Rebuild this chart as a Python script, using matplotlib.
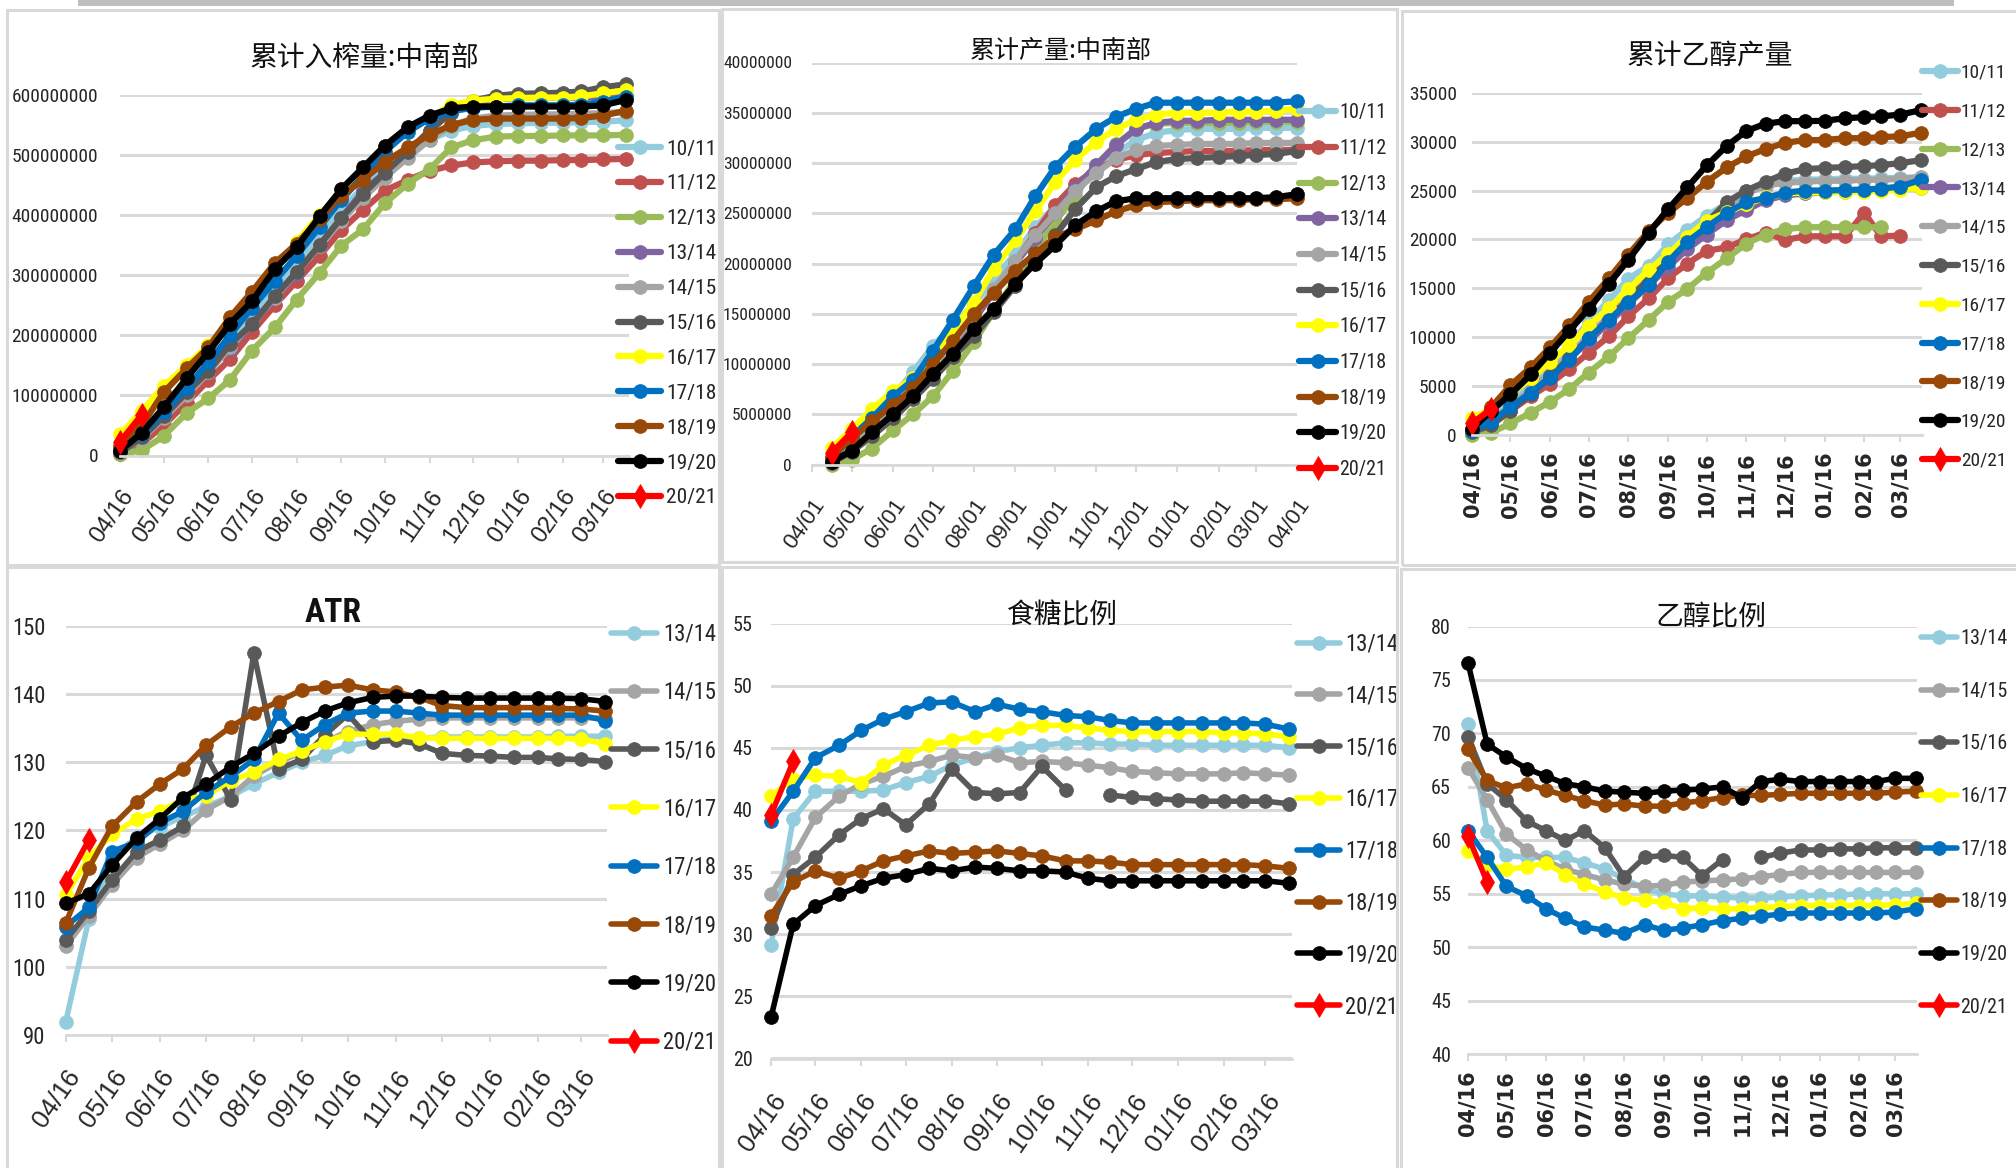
import os
import matplotlib
matplotlib.use("Agg")
import matplotlib.pyplot as plt
import matplotlib.dates as mdates
from matplotlib import font_manager
from matplotlib.font_manager import FontProperties
from matplotlib.patches import Rectangle
from matplotlib.textpath import TextPath
from matplotlib.ticker import FuncFormatter
import numpy as np
import pandas as pd

nan = np.nan


# fonts: the reference text is tall and narrow, so look for a condensed face
def find_font(keys):
    for key in keys:
        for f in font_manager.fontManager.ttflist:
            if key in os.path.basename(f.fname).lower():
                return f.fname
    return None


NARROW_REG = find_font(["liberationsansnarrow-regular", "robotocondensed-regular",
                        "dejavusanscondensed.ttf", "notosans-condensed.ttf",
                        "notosans-condensedregular", "opensans-condensedregular",
                        "opensans_condensed-regular"])
NARROW_BOLD = find_font(["liberationsansnarrow-bold.", "robotocondensed-bold.",
                         "dejavusanscondensed-bold.", "notosans-condensedbold.",
                         "opensans-condensedbold"])


def base_fp(bold=False):
    if bold and NARROW_BOLD:
        return FontProperties(fname=NARROW_BOLD)
    if not bold and NARROW_REG:
        return FontProperties(fname=NARROW_REG)
    return FontProperties(family="Liberation Sans", weight="bold" if bold else "normal")


# scale so digits are as wide as Liberation Sans Narrow would be
_w_ref = TextPath((0, 0), "0123456789", size=100,
                  prop=FontProperties(family="Liberation Sans")).get_extents().width * 0.82
_w_got = TextPath((0, 0), "0123456789", size=100, prop=base_fp()).get_extents().width
K = _w_ref / _w_got


def nfp(size, bold=False):
    fp = base_fp(bold)
    fp.set_size(size * K)
    return fp


CJK = ["Noto Sans CJK SC", "DejaVu Sans"]

# ---------------- data ----------------
# half-month report dates of a season (04/16 .. 04/01 of next year)
dates = pd.to_datetime([
    "2018-04-16", "2018-05-01", "2018-05-16", "2018-06-01", "2018-06-16", "2018-07-01",
    "2018-07-16", "2018-08-01", "2018-08-16", "2018-09-01", "2018-09-16", "2018-10-01",
    "2018-10-16", "2018-11-01", "2018-11-16", "2018-12-01", "2018-12-16", "2019-01-01",
    "2019-01-16", "2019-02-01", "2019-02-16", "2019-03-01", "2019-03-16", "2019-04-01"])

ticks_16 = pd.to_datetime([
    "2018-04-16", "2018-05-16", "2018-06-16", "2018-07-16", "2018-08-16", "2018-09-16",
    "2018-10-16", "2018-11-16", "2018-12-16", "2019-01-16", "2019-02-16", "2019-03-16"])
ticks_01 = pd.to_datetime([
    "2018-04-01", "2018-05-01", "2018-06-01", "2018-07-01", "2018-08-01", "2018-09-01",
    "2018-10-01", "2018-11-01", "2018-12-01", "2019-01-01", "2019-02-01", "2019-03-01",
    "2019-04-01"])

seasons_all = ["10/11", "11/12", "12/13", "13/14", "14/15", "15/16",
               "16/17", "17/18", "18/19", "19/20", "20/21"]
colors_all = ["#93CDDD", "#C0504D", "#9BBB59", "#8064A2", "#A5A5A5", "#595959",
              "#FFFF00", "#0070C0", "#984807", "#000000", "#FF0000"]
seasons_mix = ["13/14", "14/15", "15/16", "16/17", "17/18", "18/19", "19/20", "20/21"]
colors_mix = ["#93CDDD", "#A5A5A5", "#595959", "#FFFF00", "#0070C0", "#984807",
              "#000000", "#FF0000"]

# 累计入榨量 (million t)
cane_1011 = [8, 32, 70, 108, 150, 190, 235, 278, 322, 365, 410, 445, 478, 505, 525, 540, 548, 551, 552, 553, 553, 554, 555, 557]
cane_1112 = [3, 20, 50, 88, 125, 160, 205, 250, 290, 332, 375, 408, 440, 458, 473, 482, 487, 489, 490, 490, 491, 491, 492, 493]
cane_1213 = [2, 9, 32, 71, 95, 126, 174, 213, 259, 304, 349, 376, 419, 452, 476, 512, 524, 530, 531, 531, 532, 532, 532, 533]
cane_1314 = [6, 30, 68, 110, 148, 177, 218, 262, 302, 350, 395, 440, 470, 505, 540, 570, 585, 592, 594, 595, 595, 595, 596, 597]
cane_1415 = [5, 28, 62, 100, 138, 180, 220, 262, 305, 348, 390, 428, 462, 495, 525, 548, 560, 565, 566, 567, 567, 568, 569, 571]
cane_1516 = [5, 30, 65, 105, 140, 185, 218, 265, 305, 350, 395, 435, 470, 505, 540, 570, 590, 598, 601, 602, 603, 605, 612, 617]
cane_1617 = [35, 74, 115, 150, 183, 225, 265, 312, 355, 400, 440, 475, 510, 540, 562, 582, 590, 593, 594, 595, 595, 597, 602, 607]
cane_1718 = [10, 35, 72, 112, 155, 200, 245, 290, 332, 380, 425, 465, 505, 538, 560, 572, 578, 580, 582, 582, 582, 583, 588, 596]
cane_1819 = [15, 50, 105, 145, 180, 230, 272, 320, 352, 393, 432, 458, 488, 512, 533, 549, 558, 560, 560, 560, 560, 561, 565, 573]
cane_1920 = [8, 38, 80, 129, 172, 219, 256, 310, 346, 398, 443, 479, 515, 546, 565, 577, 580, 580, 580, 580, 580, 580, 582, 591]
cane_2021 = [23, 68]

# 累计产量 sugar (million t)
sugar_1011 = [0.5, 2.5, 4.6, 6.8, 9.2, 11.8, 13.8, 16.0, 18.5, 21.0, 23.6, 25.7, 27.8, 29.5, 31.0, 32.3, 33.0, 33.3, 33.4, 33.4, 33.4, 33.5, 33.5, 33.5]
sugar_1112 = [0.3, 1.6, 3.3, 5.2, 7.0, 9.3, 11.6, 14.4, 17.2, 20.2, 23.0, 25.8, 27.9, 29.4, 30.3, 30.8, 31.0, 31.1, 31.2, 31.2, 31.2, 31.3, 31.3, 31.3]
sugar_1213 = [0.0, 0.5, 1.6, 3.4, 5.0, 6.8, 9.3, 12.2, 15.3, 18.4, 21.2, 24.2, 26.7, 29.8, 31.9, 33.4, 33.9, 34.0, 34.0, 34.0, 34.0, 34.1, 34.1, 34.1]
sugar_1314 = [0.4, 2.0, 3.8, 5.6, 7.3, 9.5, 11.8, 14.5, 17.2, 20.0, 22.5, 25.0, 27.5, 29.8, 31.8, 33.4, 34.0, 34.2, 34.2, 34.3, 34.3, 34.3, 34.3, 34.3]
sugar_1415 = [0.4, 2.0, 3.6, 5.4, 7.2, 9.4, 12.0, 14.8, 17.5, 20.3, 22.8, 25.0, 27.2, 29.0, 30.5, 31.3, 31.7, 31.8, 31.9, 31.9, 31.9, 32.0, 32.0, 32.0]
sugar_1516 = [0.2, 1.3, 2.8, 4.6, 6.5, 8.5, 10.7, 12.8, 15.2, 17.8, 20.3, 22.8, 25.4, 27.6, 28.7, 29.4, 30.1, 30.4, 30.5, 30.6, 30.7, 30.8, 30.9, 31.2]
sugar_1617 = [1.7, 3.5, 5.5, 7.3, 8.6, 10.4, 13.3, 16.2, 19.5, 22.3, 25.2, 28.1, 30.3, 32.1, 33.4, 34.3, 34.8, 35.0, 35.0, 35.0, 35.1, 35.1, 35.2, 35.4]
sugar_1718 = [0.65, 2.8, 4.6, 6.8, 8.4, 11.3, 14.4, 17.8, 20.9, 23.4, 26.7, 29.6, 31.6, 33.4, 34.6, 35.4, 36.0, 36.0, 36.0, 36.0, 36.0, 36.0, 36.0, 36.15]
sugar_1819 = [0.8, 2.6, 4.3, 5.9, 7.6, 10.0, 12.3, 15.0, 17.1, 19.3, 21.0, 22.6, 23.4, 24.3, 25.2, 25.8, 26.1, 26.2, 26.3, 26.3, 26.3, 26.4, 26.4, 26.5]
sugar_1920 = [0.3, 1.4, 3.2, 5.0, 6.8, 9.0, 11.0, 13.5, 15.5, 18.0, 20.0, 21.8, 23.8, 25.2, 26.2, 26.5, 26.5, 26.5, 26.5, 26.5, 26.5, 26.5, 26.6, 26.9]
sugar_2021 = [1.2, 3.2]

# 累计乙醇产量
eth_1011 = [500, 2000, 3600, 5300, 7200, 9100, 11600, 13800, 16000, 17300, 19500, 21000, 22400, 23700, 25000, 25700, 26000, 26100, 26150, 26200, 26200, 26250, 26300, 26300]
eth_1112 = [70, 1370, 2490, 3970, 5270, 6760, 8430, 10100, 12150, 14000, 16050, 17530, 18830, 19200, 20020, 20690, 19950, 20320, 20320, 20320, 22730, 20320, 20390, nan]
eth_1213 = [0, 260, 1190, 2300, 3420, 4720, 6390, 8060, 9920, 11780, 13630, 14940, 16600, 18090, 19580, 20500, 21060, 21250, 21250, 21250, 21250, 21250, nan, nan]
eth_1314 = [400, 1500, 2900, 4400, 6000, 7800, 9600, 11500, 13400, 15300, 17200, 19000, 20500, 22000, 23000, 24000, 24500, 24700, 24800, 24900, 25000, 25100, 25200, 25300]
eth_1415 = [400, 1500, 3000, 4700, 6400, 8200, 10200, 12200, 14300, 16300, 18300, 20200, 21900, 23400, 24700, 25500, 25800, 25900, 26000, 26000, 26100, 26100, 26200, 26400]
eth_1516 = [300, 1000, 2500, 4200, 6000, 7900, 9900, 11900, 13900, 15900, 17900, 19900, 21700, 23850, 25000, 25890, 26710, 27190, 27300, 27400, 27500, 27600, 27800, 28100]
eth_1617 = [1700, 2700, 4200, 5800, 7500, 9200, 11200, 13000, 14900, 16900, 18500, 20300, 21900, 22800, 23600, 24300, 24700, 24800, 24800, 24900, 24900, 25000, 25100, 25300]
eth_1718 = [450, 1370, 2860, 4350, 5830, 7690, 9900, 11780, 13630, 15300, 17720, 19760, 21250, 22730, 23850, 24220, 24780, 25000, 25000, 25050, 25100, 25200, 25400, 26100]
eth_1819 = [630, 2860, 5090, 6950, 8990, 11220, 13630, 16050, 18460, 20880, 22730, 24220, 25890, 27380, 28490, 29240, 29870, 30160, 30160, 30350, 30350, 30460, 30540, 30910]
eth_1920 = [630, 2490, 4160, 6200, 8430, 10660, 12890, 15490, 17900, 20690, 23100, 25330, 27560, 29600, 31090, 31830, 32090, 32090, 32130, 32390, 32500, 32580, 32760, 33210]
eth_2021 = [1190, 2670]

# ATR
atr_1314 = [91.9, 107.0, 116.0, 119.0, 120.5, 122.0, 123.5, 125.0, 126.8, 128.5, 130.0, 131.0, 132.4, 133.0, 133.5, 133.5, 133.7, 133.7, 133.7, 133.7, 133.7, 133.8, 133.8, 133.8]
atr_1415 = [103.0, 107.5, 112.0, 116.0, 118.0, 120.0, 123.0, 125.0, 128.0, 130.0, 131.5, 133.0, 134.5, 135.5, 136.0, 136.3, 136.5, 136.5, 136.5, 136.5, 136.5, 136.5, 136.5, 136.5]
atr_1516 = [103.9, 108.2, 112.7, 116.9, 118.6, 120.6, 131.0, 124.5, 146.0, 129.0, 130.4, 134.0, 137.0, 133.0, 133.2, 132.7, 131.3, 131.0, 130.9, 130.7, 130.7, 130.5, 130.4, 130.1]
atr_1617 = [110.5, 116.0, 119.4, 121.7, 122.8, 124.5, 125.1, 127.3, 128.5, 130.4, 131.6, 133.0, 134.1, 134.1, 134.1, 133.6, 133.5, 133.5, 133.5, 133.5, 133.5, 133.5, 133.4, 132.7]
atr_1718 = [105.9, 108.7, 116.9, 118.3, 121.1, 122.8, 125.6, 127.9, 130.4, 137.2, 133.2, 135.5, 137.2, 137.5, 137.5, 137.2, 136.9, 136.9, 136.9, 136.9, 136.9, 136.9, 136.9, 136.1]
atr_1819 = [106.4, 114.5, 120.6, 124.2, 126.8, 129.0, 132.5, 135.2, 137.2, 138.9, 140.6, 141.0, 141.3, 140.6, 140.3, 139.5, 138.3, 138.0, 138.0, 138.0, 138.0, 137.9, 137.8, 137.5]
atr_1920 = [109.3, 110.7, 114.9, 118.9, 121.7, 124.8, 126.8, 129.3, 131.3, 133.8, 135.8, 137.5, 138.7, 139.5, 139.7, 139.7, 139.5, 139.4, 139.4, 139.4, 139.4, 139.4, 139.3, 138.9]
atr_2021 = [112.4, 118.6]

# 食糖比例 (%)
smix_1314 = [29.1, 39.3, 41.5, 41.5, 41.5, 41.6, 42.2, 42.7, 43.6, 44.2, 44.7, 45.0, 45.2, 45.4, 45.4, 45.3, 45.3, 45.2, 45.2, 45.2, 45.2, 45.2, 45.2, 45.0]
smix_1415 = [33.2, 36.2, 39.4, 41.1, 42.1, 42.7, 43.5, 43.9, 44.4, 44.2, 44.4, 43.8, 43.9, 43.8, 43.6, 43.4, 43.1, 43.0, 42.9, 42.9, 42.9, 43.0, 42.9, 42.8]
smix_1516 = [30.5, 34.8, 36.2, 38.0, 39.3, 40.1, 38.8, 40.5, 43.3, 41.4, 41.3, 41.4, 43.5, 41.6, nan, 41.2, 41.0, 40.9, 40.8, 40.7, 40.7, 40.7, 40.7, 40.5]
smix_1617 = [41.1, 42.5, 42.8, 42.7, 42.2, 43.6, 44.4, 45.2, 45.6, 45.9, 46.1, 46.6, 46.8, 46.8, 46.6, 46.4, 46.3, 46.3, 46.3, 46.3, 46.2, 46.2, 46.1, 45.9]
smix_1718 = [39.1, 41.5, 44.2, 45.2, 46.4, 47.3, 47.9, 48.6, 48.7, 47.9, 48.5, 48.1, 47.9, 47.6, 47.5, 47.2, 47.0, 47.0, 47.0, 47.0, 47.0, 47.0, 46.9, 46.5]
smix_1819 = [31.5, 34.2, 35.1, 34.5, 35.1, 35.9, 36.3, 36.7, 36.5, 36.6, 36.7, 36.5, 36.3, 35.9, 35.9, 35.8, 35.6, 35.6, 35.6, 35.6, 35.6, 35.6, 35.5, 35.3]
smix_1920 = [23.3, 30.8, 32.3, 33.2, 33.9, 34.5, 34.8, 35.3, 35.1, 35.4, 35.3, 35.1, 35.1, 35.0, 34.5, 34.3, 34.3, 34.3, 34.3, 34.3, 34.3, 34.3, 34.3, 34.1]
smix_2021 = [39.6, 43.9]

# 乙醇比例 (%)
emix_1314 = [70.9, 60.9, 58.6, 58.4, 58.4, 58.4, 57.9, 57.3, 56.4, 55.5, 55.0, 54.8, 54.8, 54.7, 54.6, 54.6, 54.7, 54.8, 54.9, 54.9, 55.0, 55.0, 55.0, 55.0]
emix_1415 = [66.8, 63.8, 60.6, 59.1, 58.1, 57.3, 56.8, 56.3, 55.9, 55.7, 55.8, 56.1, 56.2, 56.3, 56.4, 56.6, 56.8, 57.0, 57.0, 57.0, 57.0, 57.0, 57.0, 57.0]
emix_1516 = [69.7, 65.3, 63.8, 61.8, 60.9, 60.0, 60.9, 59.3, 56.6, 58.4, 58.6, 58.4, 56.7, 58.2, nan, 58.4, 58.8, 59.1, 59.1, 59.2, 59.2, 59.3, 59.3, 59.3]
emix_1617 = [59.0, 57.7, 57.3, 57.5, 57.9, 56.8, 55.9, 55.2, 54.6, 54.4, 54.2, 53.6, 53.7, 53.6, 53.6, 53.7, 53.8, 53.9, 53.9, 53.9, 53.9, 53.9, 54.0, 54.1]
emix_1718 = [60.9, 58.4, 55.7, 54.8, 53.6, 52.7, 51.9, 51.6, 51.3, 52.1, 51.6, 51.8, 52.1, 52.5, 52.7, 52.9, 53.1, 53.2, 53.2, 53.2, 53.2, 53.2, 53.3, 53.6]
emix_1819 = [68.5, 65.6, 64.9, 65.3, 64.7, 64.2, 63.7, 63.3, 63.4, 63.2, 63.2, 63.5, 63.7, 64.0, 64.2, 64.2, 64.3, 64.4, 64.4, 64.4, 64.4, 64.4, 64.5, 64.6]
emix_1920 = [76.6, 69.0, 67.8, 66.7, 66.0, 65.3, 65.0, 64.6, 64.5, 64.4, 64.6, 64.7, 64.8, 65.0, 64.0, 65.5, 65.7, 65.5, 65.5, 65.5, 65.5, 65.5, 65.8, 65.8]
emix_2021 = [60.4, 56.1]

cane = [cane_1011, cane_1112, cane_1213, cane_1314, cane_1415, cane_1516,
        cane_1617, cane_1718, cane_1819, cane_1920, cane_2021]
sugar = [sugar_1011, sugar_1112, sugar_1213, sugar_1314, sugar_1415, sugar_1516,
         sugar_1617, sugar_1718, sugar_1819, sugar_1920, sugar_2021]
ethanol = [eth_1011, eth_1112, eth_1213, eth_1314, eth_1415, eth_1516,
           eth_1617, eth_1718, eth_1819, eth_1920, eth_2021]
atr = [atr_1314, atr_1415, atr_1516, atr_1617, atr_1718, atr_1819, atr_1920, atr_2021]
smix = [smix_1314, smix_1415, smix_1516, smix_1617, smix_1718, smix_1819, smix_1920, smix_2021]
emix = [emix_1314, emix_1415, emix_1516, emix_1617, emix_1718, emix_1819, emix_1920, emix_2021]

# ---------------- figure ----------------
W, H = 2016, 1168
fig = plt.figure(figsize=(W / 100, H / 100), dpi=100)
fig.patch.set_facecolor("white")
renderer = fig.canvas.get_renderer()

GRID = "#D9D9D9"
TXT = "#262626"


def px_rect(x0, y0, x1, y1):
    return [x0 / W, 1 - y1 / H, (x1 - x0) / W, (y1 - y0) / H]


def frame(x0, y0, x1, y1):
    fig.patches.append(Rectangle((x0 / W, 1 - y1 / H), (x1 - x0) / W, (y1 - y0) / H,
                                 transform=fig.transFigure, fill=False,
                                 edgecolor=GRID, lw=2.2))


def text_height(s, fp):
    t = fig.text(0, 0, s, fontproperties=fp)
    h = t.get_window_extent(renderer).height
    t.remove()
    return h


def panel(box, labels, colors, series, scale, ylim, ystep, yfs, ypad,
          xlim, xticks, xrot, xfs, title, txy, tfs, leg, lw=4.5, ms=10):
    ax = fig.add_axes(px_rect(*box))
    for lab, col, vals in zip(labels, colors, series):
        y = np.array(vals, dtype=float) * scale
        mk = "d" if lab == "20/21" else "o"
        ax.plot(dates[:len(y)], y, color=col, lw=lw, marker=mk,
                ms=ms + (2 if mk == "d" else 0), mec=col, mew=0.5,
                clip_on=False, label=lab, solid_capstyle="round")
    ax.set_ylim(*ylim)
    ax.set_yticks(np.arange(ylim[0], ylim[1] + ystep / 2, ystep))
    ax.yaxis.set_major_formatter(FuncFormatter(lambda v, p: f"{v:.0f}"))
    ax.set_xlim(pd.Timestamp(xlim[0]), pd.Timestamp(xlim[1]))
    ax.set_xticks(xticks)
    ax.xaxis.set_major_formatter(mdates.DateFormatter("%m/%d"))
    for s in ("left", "right", "top"):
        ax.spines[s].set_visible(False)
    ax.spines["bottom"].set_color(GRID)
    ax.spines["bottom"].set_linewidth(2)
    ax.yaxis.grid(True, color=GRID, lw=2.2)
    ax.set_axisbelow(True)
    ax.tick_params(axis="y", length=0, pad=ypad, labelcolor=TXT)
    for t in ax.get_yticklabels():
        t.set_fontproperties(nfp(yfs))
    if xrot == 90:
        ax.tick_params(axis="x", length=5, width=1.5, color=GRID, pad=7,
                       labelsize=xfs, labelcolor=TXT)
        for t in ax.get_xticklabels():
            t.set_family("DejaVu Sans")
            t.set_weight("bold")
            t.set_rotation(90)
    else:
        ax.tick_params(axis="x", length=5, width=1.5, color=GRID, pad=17,
                       labelsize=xfs, labelcolor=TXT)
        for t in ax.get_xticklabels():
            t.set_family("Liberation Sans")
            t.set_rotation(xrot)
            t.set_ha("right")
            t.set_va("top")
            t.set_rotation_mode("anchor")
    # title
    if title == "ATR":
        fig.text(txy[0] / W, 1 - txy[1] / H, title, ha="center", va="center",
                 fontproperties=nfp(tfs, bold=True), color="#111111")
    else:
        fig.text(txy[0] / W, 1 - txy[1] / H, title, ha="center", va="center",
                 fontsize=tfs, family=CJK, color="#111111")
    # legend: x of handles, centre of first row, row pitch (px), font size, handle, pad
    lx, ly, pitch, lfs, hl, tp = leg
    fp = nfp(lfs)
    fs_px = fp.get_size_in_points() * 100 / 72
    th = text_height("10/11", fp)
    lg = ax.legend(loc="upper left", bbox_to_anchor=(lx / W, 1 - (ly - th / 2) / H),
                   bbox_transform=fig.transFigure, frameon=False, borderpad=0,
                   borderaxespad=0, labelspacing=(pitch - th) / fs_px,
                   handlelength=hl / fs_px, handletextpad=tp / fs_px, numpoints=1,
                   prop=fp)
    for t in lg.get_texts():
        t.set_color(TXT)
    return ax


# panel frames and the grey strip at the very top
frame(7, 10, 719, 565)
frame(722, 9, 1397, 562)
frame(1402, 11, 2030, 565)
frame(7, 567, 719, 1180)
frame(722, 567, 1397, 1180)
frame(1401, 569, 2030, 1180)
fig.patches.append(Rectangle((78 / W, 1 - 5.5 / H), (1954 - 78) / W, 5.5 / H,
                             transform=fig.transFigure, color="#BFBFBF", lw=0))

panel((120.3, 94.5, 629, 455.5), seasons_all, colors_all, cane, 1e6,
      (0, 6e8), 1e8, 15, 16, ("2018-04-16", "2019-04-03"), ticks_16, 55, 17,
      "累计入榨量:中南部", (364, 58), 20, (618, 149, 34.9, 16.5, 43, 5))

panel((812, 62.5, 1297, 464.6), seasons_all, colors_all, sugar, 1e6,
      (0, 4e7), 5e6, 13.5, 14.4, ("2018-04-01", "2019-04-01"), ticks_01, 55, 16,
      "累计产量:中南部", (1061, 51), 18, (1299, 112.7, 35.7, 15.5, 37, 3))

panel((1472, 92.7, 1922, 435.1), seasons_all, colors_all, ethanol, 1,
      (0, 35000), 5000, 15, 10.8, ("2018-04-16", "2019-04-02"), ticks_16, 90, 15,
      "累计乙醇产量", (1710, 56), 20, (1922, 72.7, 38.8, 15, 36, 3))

panel((65.7, 625.8, 607, 1035), seasons_mix, colors_mix, atr, 1,
      (90, 150), 10, 17.5, 14.4, ("2018-04-16", "2019-04-02"), ticks_16, 55, 18.5,
      "ATR", (333, 613), 26, (611, 634, 58.3, 17.5, 46, 6), lw=4)

panel((771, 623.5, 1292, 1058.5), seasons_mix, colors_mix, smix, 1,
      (20, 55), 5, 15.5, 13.3, ("2018-04-16", "2019-04-03"), ticks_16, 55, 18.5,
      "食糖比例", (1062, 615), 20, (1297, 644, 51.8, 17.5, 43, 5), lw=4)

panel((1468, 626.5, 1917, 1054.2), seasons_mix, colors_mix, emix, 1,
      (40, 80), 5, 15.5, 12.2, ("2018-04-16", "2019-04-02"), ticks_16, 90, 15,
      "乙醇比例", (1711, 617), 20, (1921, 638.8, 52.6, 15.5, 36, 3), lw=4)

fig.savefig("out.png", dpi=100, facecolor="white")
